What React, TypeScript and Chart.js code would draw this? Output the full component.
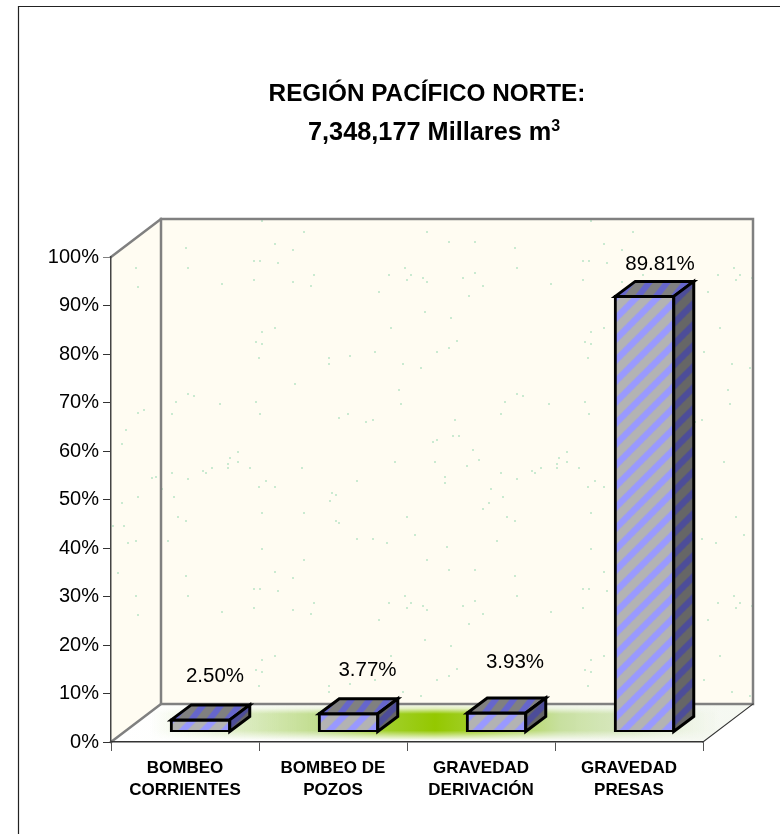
import React, { useEffect, useRef } from "react";
import { Chart, registerables } from "chart.js";

Chart.register(...registerables);

const categories = [
  ["BOMBEO", "CORRIENTES"],
  ["BOMBEO DE", "POZOS"],
  ["GRAVEDAD", "DERIVACIÓN"],
  ["GRAVEDAD", "PRESAS"],
];
const shares = [2.5, 3.77, 3.93, 89.81];
const titleLine1 = "REGIÓN PACÍFICO NORTE:";
const titleLine2 = "7,348,177 Millares m";
const titleSup = "3";

// value label placement relative to the bar's front-face centre / top of the box
const labelDx = [14.5, 19, 18.5, 15.5];
const labelDy = [-29, -28, -36, -17];

// Background texture (one repeat of the wall's speckle tile, page pixels)
const wallSpeckles = [
  [262,221],[304,232],[275,244],[293,250],[254,261],[260,261],[278,263],[314,275],[254,280],[293,282],[311,286],
  [275,328],[262,332],[256,342],[262,344],[259,358],[329,358],[329,364],[350,356],[295,384],[256,402],[260,414],
  [339,418],[348,414],[427,232],[449,242],[475,242],[515,248],[517,268],[405,268],[389,275],[411,275],[407,280],
  [423,278],[427,282],[463,278],[475,273],[483,286],[551,284],[379,292],[469,296],[425,312],[451,318],[391,328],
  [457,341],[449,348],[437,352],[375,352],[403,364],[421,368],[399,390],[401,404],[517,394],[523,396],[505,402],
  [549,404],[501,414],[366,422],[373,420],[455,420],[453,436],[459,436],[433,442],[437,440],[473,450],[479,460],
  [395,462],[435,462],[567,452],[559,458],[567,462],[557,464],[259,487],[266,481],[275,487],[302,468],[332,493],
  [336,495],[330,501],[262,513],[304,513],[336,521],[339,523],[357,481],[445,477],[445,483],[467,466],[501,473],
  [517,479],[532,471],[535,473],[541,468],[557,468],[579,468],[491,489],[503,497],[489,503],[483,509],[507,517],
  [515,521],[407,517],[415,535],[357,539],[373,539],[387,543],[497,541],[447,547],
];
const sideSpeckles = [
  [136,268],[138,287],[144,410],[138,413],[126,430],[122,444],[152,478],[156,477],[138,497],[122,503],[124,526],
  [113,526],[136,541],[128,543],[118,573],
];

function stripeTile(base: string, stripe: string): HTMLCanvasElement {
  const p = 21;
  const c = document.createElement("canvas");
  c.width = p;
  c.height = p;
  const g = c.getContext("2d")!;
  g.fillStyle = base;
  g.fillRect(0, 0, p, p);
  g.fillStyle = stripe;
  const w = 9;
  for (const o of [-p, 0, p]) {
    g.beginPath();
    g.moveTo(o, p);
    g.lineTo(o + p, 0);
    g.lineTo(o + p + w, 0);
    g.lineTo(o + w, p);
    g.closePath();
    g.fill();
  }
  return c;
}

const SHIFT_X = 15.5;
const SHIFT_Y = -10;
const DEPTH_X = 20;
const DEPTH_Y = -15;
const WALL_X = 50;
const WALL_Y = -38;
const BAR_BORDER = 3;
const SPECKLE = "rgba(150,215,175,0.5)";

const scene3d = {
  id: "scene3d",
  beforeDraw(chart: any) {
    const { ctx, chartArea: a } = chart;
    const L = a.left, R = a.right, T = a.top, B = a.bottom;
    ctx.save();
    ctx.fillStyle = "#ffffff";
    ctx.fillRect(0, 0, chart.width, chart.height);

    // page frame: left + top rule only
    ctx.strokeStyle = "#222";
    ctx.lineWidth = 1.2;
    ctx.beginPath();
    ctx.moveTo(18.5, 834);
    ctx.lineTo(18.5, 6.5);
    ctx.lineTo(780, 6.5);
    ctx.stroke();

    const wallFill = "#fffcf2";
    // back wall
    ctx.fillStyle = wallFill;
    ctx.fillRect(L + WALL_X, T + WALL_Y, R - L, B - T);
    ctx.save();
    ctx.beginPath();
    ctx.rect(L + WALL_X, T + WALL_Y, R - L, B - T);
    ctx.clip();
    ctx.fillStyle = SPECKLE;
    for (let ox = -329; ox <= 329; ox += 329) {
      for (let oy = -328; oy <= 328; oy += 328) {
        for (const [x, y] of wallSpeckles) ctx.fillRect(x + ox - 1, y + oy - 1, 2, 2);
      }
    }
    ctx.restore();

    // side wall
    ctx.beginPath();
    ctx.moveTo(L, T);
    ctx.lineTo(L + WALL_X, T + WALL_Y);
    ctx.lineTo(L + WALL_X, B + WALL_Y);
    ctx.lineTo(L, B);
    ctx.closePath();
    ctx.fillStyle = wallFill;
    ctx.fill();
    ctx.save();
    ctx.clip();
    ctx.fillStyle = SPECKLE;
    for (let oy = -328; oy <= 328; oy += 328) {
      for (const [x, y] of sideSpeckles) ctx.fillRect(x - 1, y + oy - 1, 2, 2);
    }
    ctx.restore();

    // floor
    const floorPath = () => {
      ctx.beginPath();
      ctx.moveTo(L, B);
      ctx.lineTo(R, B);
      ctx.lineTo(R + WALL_X, B + WALL_Y);
      ctx.lineTo(L + WALL_X, B + WALL_Y);
      ctx.closePath();
    };
    floorPath();
    const baseG = ctx.createLinearGradient(L, 0, R + WALL_X, 0);
    baseG.addColorStop(0, "#ffffff");
    baseG.addColorStop(1, "#f5f8f1");
    ctx.fillStyle = baseG;
    ctx.fill();

    const off = document.createElement("canvas");
    off.width = chart.width;
    off.height = chart.height;
    const og = off.getContext("2d")!;
    const h = og.createLinearGradient(150, 0, 720, 0);
    h.addColorStop(0, "rgba(190,220,140,0)");
    h.addColorStop(0.17, "rgba(190,220,140,0.55)");
    h.addColorStop(0.3, "#c0dc8c");
    h.addColorStop(0.42, "#a0cf28");
    h.addColorStop(0.5, "#94c800");
    h.addColorStop(0.58, "#a4d030");
    h.addColorStop(0.72, "#c8e0a0");
    h.addColorStop(0.85, "rgba(205,226,175,0.7)");
    h.addColorStop(1, "rgba(220,235,200,0)");
    og.fillStyle = h;
    og.fillRect(0, B + WALL_Y, chart.width, -WALL_Y);
    og.globalCompositeOperation = "destination-in";
    const v = og.createLinearGradient(0, B + WALL_Y, 0, B);
    v.addColorStop(0, "rgba(0,0,0,0)");
    v.addColorStop(0.12, "rgba(0,0,0,0.25)");
    v.addColorStop(0.26, "rgba(0,0,0,1)");
    v.addColorStop(0.7, "rgba(0,0,0,1)");
    v.addColorStop(0.86, "rgba(0,0,0,0.35)");
    v.addColorStop(0.95, "rgba(0,0,0,0)");
    og.fillStyle = v;
    og.fillRect(0, B + WALL_Y, chart.width, -WALL_Y);
    ctx.save();
    floorPath();
    ctx.clip();
    ctx.drawImage(off, 0, 0);
    ctx.restore();

    // wall outlines
    ctx.strokeStyle = "#808080";
    ctx.lineWidth = 2.5;
    ctx.lineCap = "square";
    ctx.strokeRect(L + WALL_X, T + WALL_Y, R - L, B - T);
    ctx.beginPath();
    ctx.moveTo(L, T);
    ctx.lineTo(L + WALL_X, T + WALL_Y);
    ctx.moveTo(L, B);
    ctx.lineTo(L + WALL_X, B + WALL_Y);
    ctx.stroke();
    ctx.strokeStyle = "#333";
    ctx.lineWidth = 1.2;
    ctx.beginPath();
    ctx.moveTo(R, B);
    ctx.lineTo(R + WALL_X, B + WALL_Y);
    ctx.stroke();
    ctx.restore();
  },
  beforeDatasetsDraw(chart: any) {
    chart.ctx.save();
    chart.ctx.translate(SHIFT_X, SHIFT_Y);
  },
  afterDatasetsDraw(chart: any) {
    const { ctx } = chart;
    const meta = chart.getDatasetMeta(0);
    const topTile = stripeTile("#808080", "#6666cc");
    const sideTile = stripeTile("#666666", "#4d4d99");
    const topPat = ctx.createPattern(topTile, "repeat")!;
    topPat.setTransform(new DOMMatrix([0.857, 0, 0.057, 1, 0, 0]));
    const sidePat = ctx.createPattern(sideTile, "repeat")!;

    ctx.lineJoin = "miter";
    ctx.lineWidth = BAR_BORDER;
    ctx.strokeStyle = "#000";
    meta.data.forEach((bar: any) => {
      const left = bar.x - bar.width / 2;
      const right = bar.x + bar.width / 2;
      const top = bar.y;
      const base = bar.base;
      // top face
      ctx.beginPath();
      ctx.moveTo(left, top);
      ctx.lineTo(left + DEPTH_X, top + DEPTH_Y);
      ctx.lineTo(right + DEPTH_X, top + DEPTH_Y);
      ctx.lineTo(right, top);
      ctx.closePath();
      ctx.fillStyle = topPat;
      ctx.fill();
      ctx.stroke();
      // side face
      ctx.beginPath();
      ctx.moveTo(right, top);
      ctx.lineTo(right + DEPTH_X, top + DEPTH_Y);
      ctx.lineTo(right + DEPTH_X, base + DEPTH_Y);
      ctx.lineTo(right, base);
      ctx.closePath();
      ctx.fillStyle = sidePat;
      ctx.fill();
      ctx.stroke();
    });
    ctx.restore();

    // value labels
    ctx.save();
    ctx.fillStyle = "#000";
    ctx.font = '20.5px "Liberation Sans", Arial, sans-serif';
    ctx.textAlign = "center";
    ctx.textBaseline = "middle";
    meta.data.forEach((bar: any, i: number) => {
      const x = bar.x + SHIFT_X + labelDx[i];
      const y = bar.y + SHIFT_Y + DEPTH_Y + labelDy[i];
      ctx.fillText(shares[i].toFixed(2) + "%", x, y);
    });
    ctx.restore();
  },
  afterDraw(chart: any) {
    const { ctx } = chart;
    ctx.save();
    ctx.fillStyle = "#000";
    ctx.textBaseline = "alphabetic";
    ctx.textAlign = "left";
    const fam = '"Liberation Sans", Arial, sans-serif';
    ctx.font = "bold 24.3px " + fam;
    const w1 = ctx.measureText(titleLine1).width;
    ctx.fillText(titleLine1, 427 - w1 / 2, 101);
    ctx.font = "bold 25.3px " + fam;
    const w2 = ctx.measureText(titleLine2).width;
    const start = 308;
    ctx.fillText(titleLine2, start, 140);
    ctx.font = "bold 16px " + fam;
    ctx.fillText(titleSup, start + w2, 131);
    ctx.restore();
  },
};

export default function App() {
  const ref = useRef<HTMLCanvasElement>(null);
  useEffect(() => {
    const canvas = ref.current!;
    const frontTile = stripeTile("#b3b3b3", "#9999ff");
    const frontPat = canvas.getContext("2d")!.createPattern(frontTile, "repeat")!;
    const chart = new Chart(canvas, {
      type: "bar",
      data: {
        labels: categories as any,
        datasets: [
          {
            data: shares,
            backgroundColor: frontPat as any,
            borderColor: "#000",
            borderWidth: BAR_BORDER,
            borderSkipped: false,
            inflateAmount: BAR_BORDER / 2,
            barPercentage: 58.5 / 148,
            categoryPercentage: 1,
          },
        ],
      },
      options: {
        responsive: false,
        animation: false,
        layout: { padding: { left: 0, top: 257, right: 77, bottom: 0 } },
        plugins: { legend: { display: false }, title: { display: false }, tooltip: { enabled: false } },
        scales: {
          x: {
            offset: true,
            afterFit: (s: any) => {
              s.height = 92;
            },
            grid: { display: true, drawOnChartArea: false, drawTicks: true, tickLength: 9, color: "#555", offset: true },
            border: { color: "#333", width: 1.5 },
            ticks: {
              color: "#000",
              autoSkip: false,
              maxRotation: 0,
              minRotation: 0,
              padding: 6,
              font: { family: '"Liberation Sans", Arial, sans-serif', size: 17, weight: "bold", lineHeight: 1.3 },
            },
          },
          y: {
            min: 0,
            max: 100,
            afterFit: (s: any) => {
              s.width = 111;
            },
            grid: {
              display: true,
              drawOnChartArea: false,
              drawTicks: true,
              tickLength: 8,
              color: (c: any) => (c.tick && c.tick.value === 100 ? "#808080" : "#333"),
            },
            border: { color: "#444", width: 1.5 },
            ticks: {
              stepSize: 10,
              color: "#000",
              padding: 4,
              font: { family: '"Liberation Sans", Arial, sans-serif', size: 20 },
              callback: (v: any) => v + "%",
            },
          },
        },
      },
      plugins: [scene3d],
    } as any);
    return () => chart.destroy();
  }, []);
  return (
    <div style={{ position: "absolute", left: 0, top: 0, width: 780, height: 834 }}>
      <canvas ref={ref} width={780} height={834} style={{ display: "block" }} />
    </div>
  );
}
